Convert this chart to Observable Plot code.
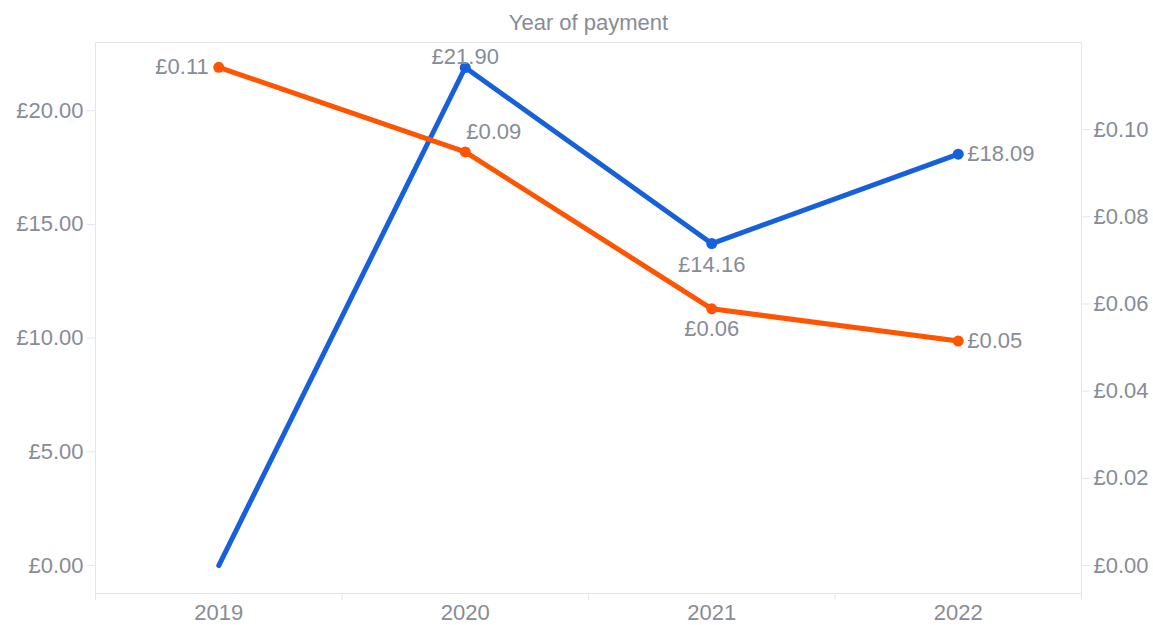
<!DOCTYPE html>
<html>
<head>
<meta charset="utf-8">
<script src="https://cdn.jsdelivr.net/npm/d3@7"></script>
<script src="https://cdn.jsdelivr.net/npm/@observablehq/plot@0.6"></script>
<style>
  html, body { margin: 0; padding: 0; background: #fff; }
  #chart svg { overflow: visible; }
</style>
</head>
<body>
<div id="chart"></div>
<script>
// ---- data ----
const years = [2019, 2020, 2021, 2022];
const paymentAmount = [0, 21.90, 14.16, 18.09];      // blue, left axis (£)
const paymentRate = [0.1143, 0.0949, 0.0589, 0.0515]; // orange, right axis (£)
const leftTicks = [0, 5, 10, 15, 20];
const rightTicks = [0, 0.02, 0.04, 0.06, 0.08, 0.10];
const title = "Year of payment";

// axis domains
const leftDomain = [-1.23, 23.0];
const rightMax = 0.12;
const k = leftDomain[1] / rightMax; // right -> left units

const gbp = v => "£" + v.toFixed(2);

const blue = years.map((y, i) => ({year: y, value: paymentAmount[i]}));
const orange = years.map((y, i) => ({year: y, raw: paymentRate[i], value: paymentRate[i] * k}));

const BLUE = "#1760db";
const ORANGE = "#ff5400";
const TXT = "#878c97";
const GRID = "#e4e6ea";
const FS = 22;

const labelOpts = {fill: TXT, fontSize: FS};
const bluePts = blue.filter(d => d.value > 0);

const boundaries = [years[0] - 0.5, ...years.map(y => y + 0.5)];

const chart = Plot.plot({
  width: 1153,
  height: 625,
  marginTop: 42,
  marginBottom: 32,
  marginLeft: 95,
  marginRight: 72,
  style: {fontFamily: "'Liberation Sans', Arial, Helvetica, sans-serif", fontSize: FS + "px", color: TXT, background: "white"},
  x: {domain: [years[0] - 0.5, years[years.length - 1] + 0.5], axis: null},
  y: {domain: leftDomain, axis: null},
  marks: [
    Plot.frame({stroke: GRID, strokeWidth: 1}),
    // bottom axis: boundary ticks and year labels
    Plot.axisX({ticks: boundaries, tickSize: 7, tickFormat: () => "", stroke: GRID, label: null}),
    Plot.axisX({ticks: years, tickSize: 0, tickPadding: 11, tickFormat: d => String(d), fill: TXT, fontSize: FS, label: null}),
    // left axis
    Plot.axisY({anchor: "left", ticks: leftTicks, tickSize: 8, tickPadding: 4, tickFormat: gbp, stroke: GRID, fill: TXT, fontSize: FS, label: null}),
    // right axis (scaled)
    Plot.axisY({anchor: "right", ticks: rightTicks.map(v => v * k), tickSize: 8, tickPadding: 4, tickFormat: v => gbp(v / k), stroke: GRID, fill: TXT, fontSize: FS, label: null}),
    // title
    Plot.text([title], {frameAnchor: "top", lineAnchor: "middle", dy: -20, fill: TXT, fontSize: FS}),
    // lines
    Plot.line(blue, {x: "year", y: "value", stroke: BLUE, strokeWidth: 5, strokeLinecap: "round", strokeLinejoin: "round"}),
    Plot.line(orange, {x: "year", y: "value", stroke: ORANGE, strokeWidth: 5, strokeLinecap: "round", strokeLinejoin: "round"}),
    Plot.dot(bluePts, {x: "year", y: "value", r: 5.5, fill: BLUE}),
    Plot.dot(orange, {x: "year", y: "value", r: 5.5, fill: ORANGE}),
    // blue labels
    Plot.text(bluePts.filter(d => d.year === 2020), {x: "year", y: "value", text: d => gbp(d.value), dy: -11, ...labelOpts}),
    Plot.text(bluePts.filter(d => d.year === 2021), {x: "year", y: "value", text: d => gbp(d.value), dy: 21, ...labelOpts}),
    Plot.text(bluePts.filter(d => d.year === 2022), {x: "year", y: "value", text: d => gbp(d.value), dx: 9, textAnchor: "start", ...labelOpts}),
    // orange labels
    Plot.text(orange.filter(d => d.year === 2019), {x: "year", y: "value", text: d => gbp(d.raw), dx: -10, textAnchor: "end", ...labelOpts}),
    Plot.text(orange.filter(d => d.year === 2020), {x: "year", y: "value", text: d => gbp(d.raw), dx: 1, dy: -20, textAnchor: "start", ...labelOpts}),
    Plot.text(orange.filter(d => d.year === 2021), {x: "year", y: "value", text: d => gbp(d.raw), dy: 20, ...labelOpts}),
    Plot.text(orange.filter(d => d.year === 2022), {x: "year", y: "value", text: d => gbp(d.raw), dx: 9, textAnchor: "start", ...labelOpts})
  ]
});
document.getElementById("chart").appendChild(chart);
</script>
</body>
</html>
